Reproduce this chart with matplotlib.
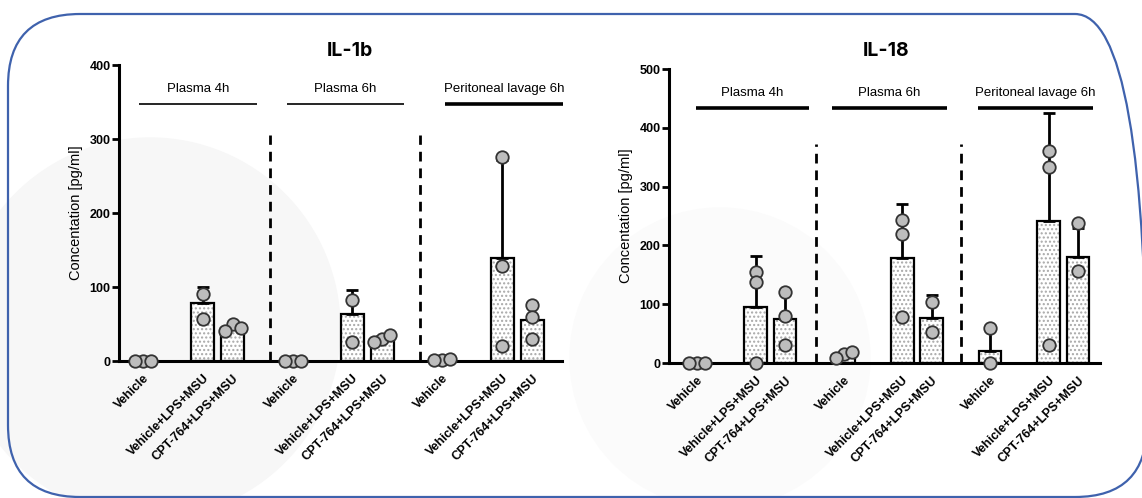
import numpy as np
import matplotlib
matplotlib.use("Agg")
import matplotlib.pyplot as plt
from matplotlib.patches import FancyBboxPatch, Circle
from matplotlib.transforms import IdentityTransform

plt.rcParams['font.family'] = ['Liberation Sans', 'DejaVu Sans']

groups = ["Plasma 4h", "Plasma 6h", "Peritoneal lavage 6h"]
treatments = ["Vehicle", "Vehicle+LPS+MSU", "CPT-764+LPS+MSU"]

# IL-1b: mean, SD and individual values per group / treatment
il1b_mean = [[0, 79, 45], [0, 64, 30], [2, 139, 55]]
il1b_sd = [[0, 21, 5], [0, 32, 4], [0.5, 132, 23]]
il1b_points = [[[0, 0, 0], [91, 57], [50, 40, 44]],
               [[0, 0, 0], [83, 26], [30, 26, 35]],
               [[2, 2, 3], [276, 128, 20], [76, 60, 30]]]

# IL-18
il18_mean = [[0, 96, 75], [13, 179, 77], [20, 241, 181]]
il18_sd = [[0, 86, 46], [5, 91, 39], [40, 184, 49]]
il18_points = [[[0, 0, 0], [155, 138, 0], [121, 80, 30]],
               [[16, 8, 19], [243, 219, 78], [104, 53]],
               [[60, 0], [361, 333, 31], [238, 156]]]

W, H = 1142, 498
fig = plt.figure(figsize=(W / 100, H / 100), dpi=100)

# faint background shapes
fig.patches.append(Circle((150, 170), 190, transform=IdentityTransform(),
                          color='#f7f7f7', zorder=-10))
fig.patches.append(Circle((720, 140), 150, transform=IdentityTransform(),
                          color='#fbfbfb', zorder=-10))
# rounded frame
fig.patches.append(FancyBboxPatch((8, 1), 1139, 483, transform=IdentityTransform(),
                                  boxstyle="round,pad=0,rounding_size=72",
                                  facecolor='none', edgecolor='#3f62ad', linewidth=1.6))


def swarm(vals, ax, x0, d=0.27, thr=7.5):
    placed = []
    xs = []
    for v in vals:
        for k in [0, -1, 1, -2, 2]:
            x = x0 + k * d
            p = ax.transData.transform((x, v))
            if all(np.hypot(*(p - q)) >= thr for q in placed):
                break
        placed.append(p)
        xs.append(x)
    return xs


def panel(rect, title, means, sds, points, ymax, step, dash_pos, dash_top,
          hdr_y, hdr_spans, hdr_lw, xlim, title_x):
    ax = fig.add_axes(rect)
    ax.set_xlim(*xlim)
    ax.set_ylim(0, ymax)
    ax.patch.set_alpha(0)
    for s in ['top', 'right']:
        ax.spines[s].set_visible(False)
    ax.spines['left'].set_linewidth(2.2)
    ax.spines['bottom'].set_linewidth(2.2)
    ax.spines['bottom'].set_zorder(5)
    ax.set_yticks(np.arange(0, ymax + 1, step))
    ax.tick_params(axis='y', length=5, width=2, labelsize=9, pad=1)
    for t in ax.get_yticklabels():
        t.set_fontweight('bold')
    ax.set_ylabel("Concentation [pg/ml]", fontsize=10.5, labelpad=5)

    ticks, labels = [], []
    for g in range(3):
        for i, off in enumerate([0, 2, 3]):
            x = g * 5 + off
            ticks.append(x)
            labels.append(treatments[i])
            m, s = means[g][i], sds[g][i]
            ax.bar(x, m, width=0.77, color='white', edgecolor='#a8a8a8',
                   hatch='....', linewidth=0, zorder=2)
            ax.bar(x, m, width=0.77, color='none', edgecolor='black',
                   linewidth=1.6, zorder=3)
            if s > 0:
                ax.errorbar(x, m, yerr=[[0], [s]], fmt='none', ecolor='black',
                            elinewidth=2, capsize=4.5, capthick=2, zorder=3)
            xs = swarm(points[g][i], ax, x)
            ax.plot(xs, points[g][i], 'o', ms=9, mfc='#bdbdbd', mec='#333333',
                    mew=1.3, clip_on=False, zorder=6)
    ax.set_xticks(ticks)
    ax.set_xticklabels(labels, rotation=45, ha='right', va='top',
                       rotation_mode='anchor', fontsize=9, fontweight='bold')
    ax.tick_params(axis='x', length=0, pad=8)

    for xd in dash_pos:
        ax.plot([xd, xd], [0, dash_top], color='black', lw=2,
                ls=(0, (3.5, 2.5)), clip_on=False, zorder=1)
    for g in range(3):
        x1, x2 = hdr_spans[g]
        ax.plot([x1, x2], [hdr_y, hdr_y], color='black', lw=hdr_lw[g],
                clip_on=False, solid_capstyle='butt')
        ax.text((x1 + x2) / 2, hdr_y + ymax * 0.05, groups[g], ha='center',
                va='center', fontsize=9.5)
    fig.text(title_x / W, 1 - 51 / H, title, ha='center', va='center',
             fontsize=14, fontweight='bold', family=['Inter', 'DejaVu Sans'])
    return ax


panel([119 / W, 1 - 361 / H, 443 / W, 296 / H], "IL-1b",
      il1b_mean, il1b_sd, il1b_points, 400, 100,
      [4.25, 9.25], 305, 347,
      [(-0.13, 3.8), (4.8, 8.73), (10.1, 14.03)], [1.2, 1.2, 2.6],
      (-0.8, 14.0), 350)

panel([669 / W, 1 - 363 / H, 431 / W, 294 / H], "IL-18",
      il18_mean, il18_sd, il18_points, 500, 100,
      [4.06, 9.0], 372, 434,
      [(-0.03, 3.82), (4.6, 8.53), (9.6, 13.5)], [2.6, 2.6, 2.6],
      (-0.96, 13.75), 886)

fig.savefig("out.png", dpi=100)
